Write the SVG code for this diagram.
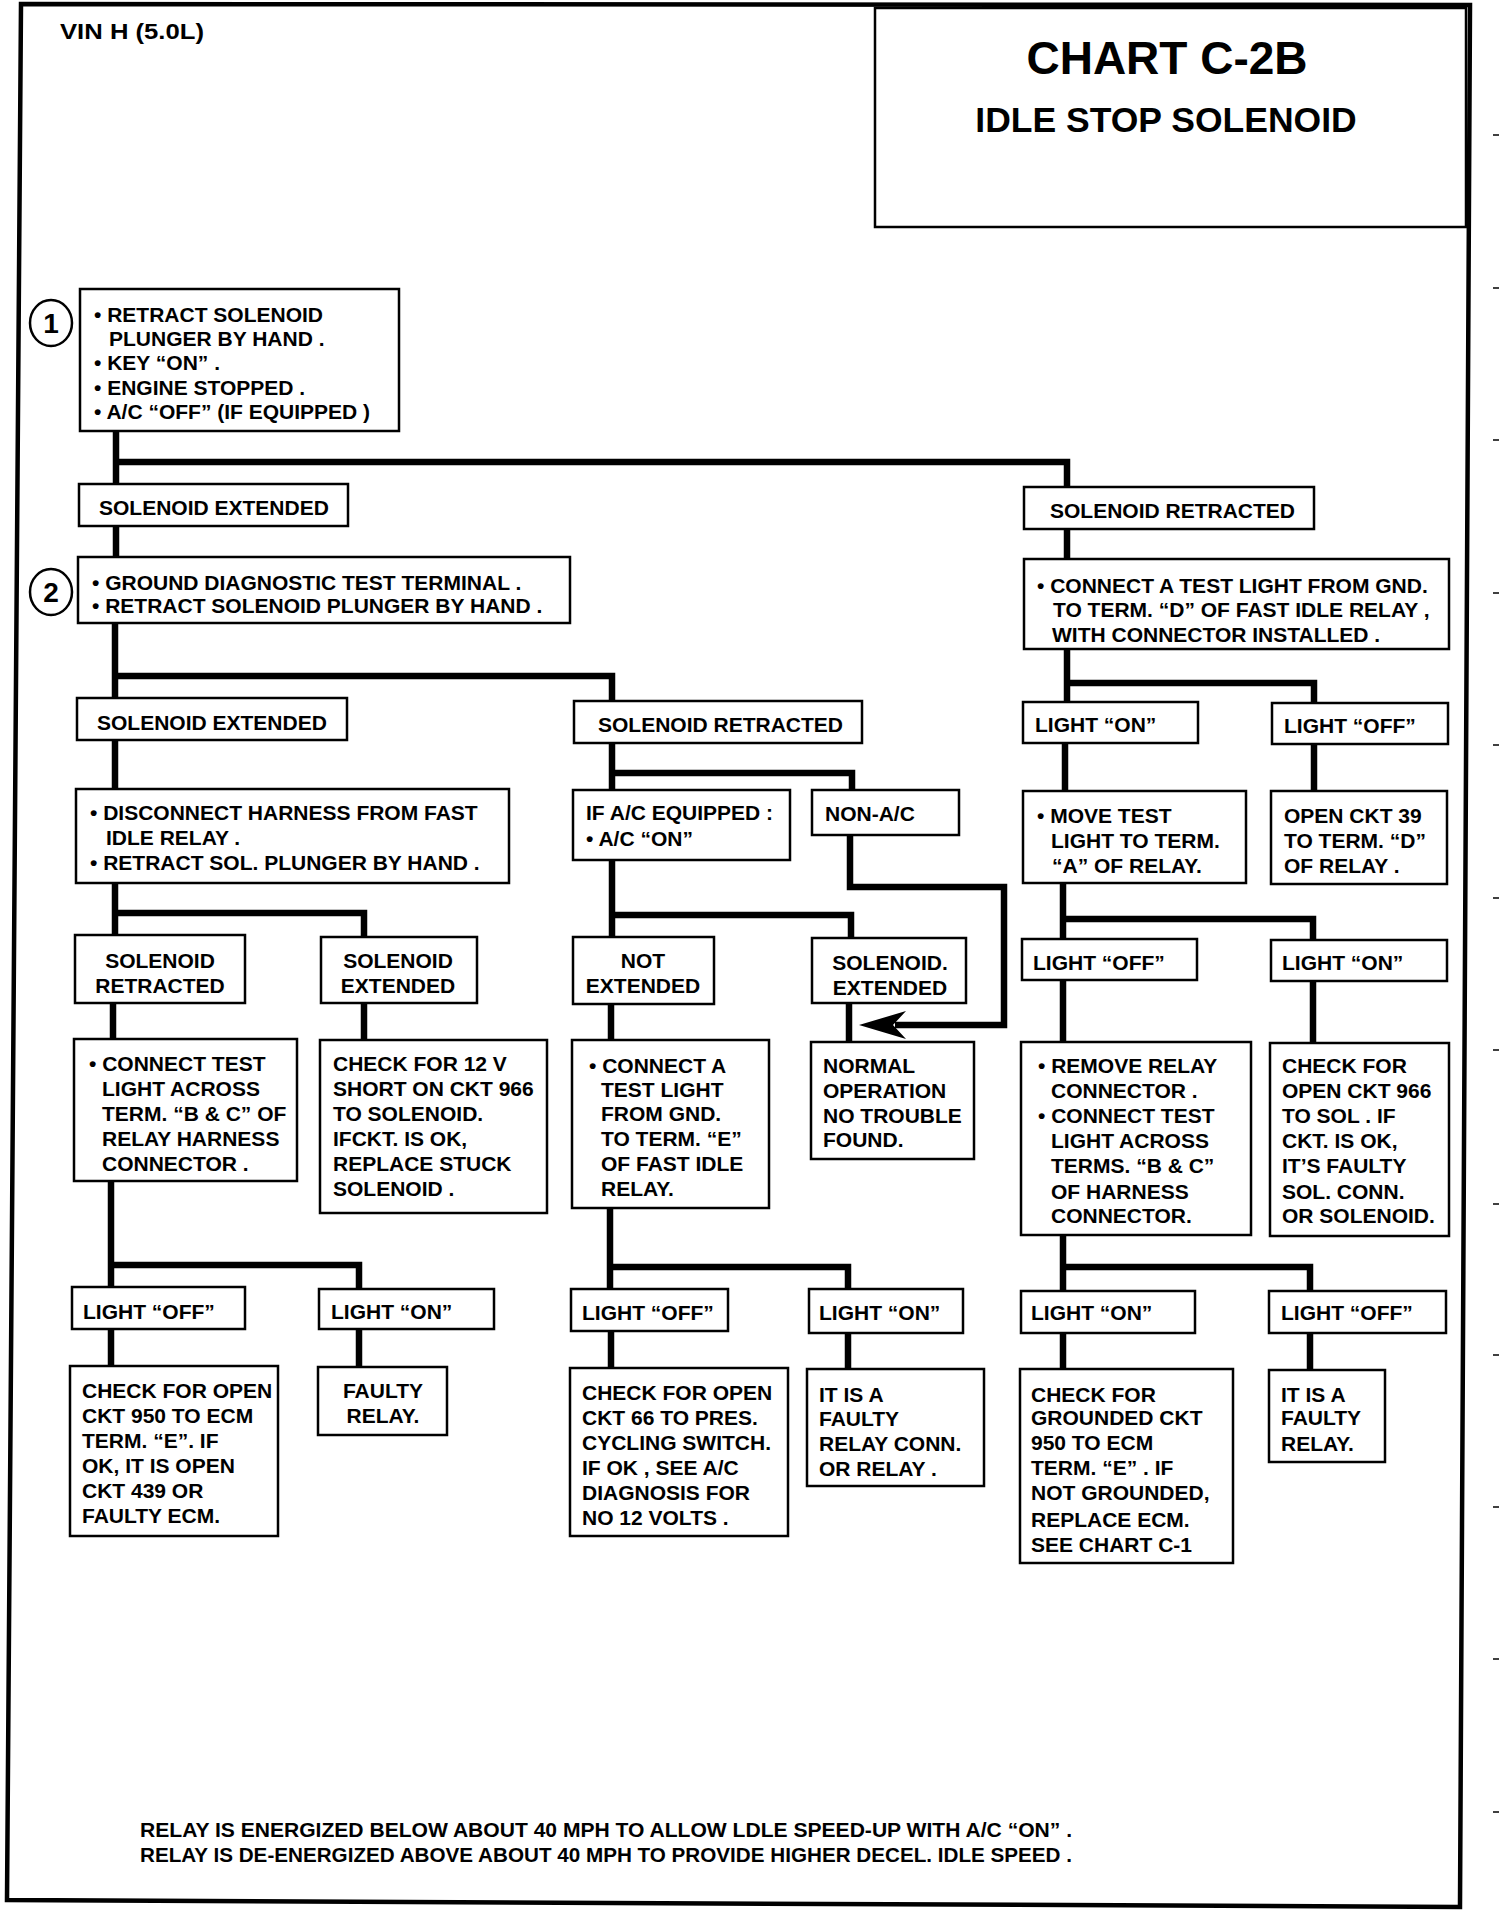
<svg xmlns="http://www.w3.org/2000/svg" width="1504" height="1912" viewBox="0 0 1504 1912">
<style>
.box{fill:#fff;stroke:#000;stroke-width:2.5}
.t{font-family:"Liberation Sans",Arial,sans-serif;font-weight:bold;font-size:21px;fill:#000}
.c{text-anchor:middle}
.conn{fill:none;stroke:#000;stroke-width:6.5;stroke-linejoin:miter;stroke-linecap:butt}
.frame{fill:none;stroke:#000;stroke-width:4.5}
.tick{stroke:#000;stroke-width:1.5}
.circ{fill:#fff;stroke:#000;stroke-width:2.5}
</style>
<rect x="0" y="0" width="1504" height="1912" fill="#fff"/>
<g id="frame">
<path class="frame" d="M21 4 L1470 5 L1460 1907 L7 1900 Z"/>
<g id="ticks">
<line class="tick" x1="1493" y1="135" x2="1499" y2="135"/>
<line class="tick" x1="1493" y1="288" x2="1499" y2="288"/>
<line class="tick" x1="1493" y1="440" x2="1499" y2="440"/>
<line class="tick" x1="1493" y1="593" x2="1499" y2="593"/>
<line class="tick" x1="1493" y1="745" x2="1499" y2="745"/>
<line class="tick" x1="1493" y1="898" x2="1499" y2="898"/>
<line class="tick" x1="1493" y1="1050" x2="1499" y2="1050"/>
<line class="tick" x1="1493" y1="1204" x2="1499" y2="1204"/>
<line class="tick" x1="1493" y1="1355" x2="1499" y2="1355"/>
<line class="tick" x1="1493" y1="1507" x2="1499" y2="1507"/>
<line class="tick" x1="1493" y1="1659" x2="1499" y2="1659"/>
<line class="tick" x1="1493" y1="1812" x2="1499" y2="1812"/>
</g>
</g>
<g id="header">
<text class="t" x="60" y="39" textLength="144" lengthAdjust="spacingAndGlyphs" style="font-size:22px">VIN H (5.0L)</text>
</g>
<g id="title">
<rect x="875" y="8" width="591" height="219" fill="#fff" stroke="#000" stroke-width="2.5"/>
<text class="t c" x="1167" y="74" style="font-size:46px">CHART C-2B</text>
<text class="t c" x="1166" y="132" style="font-size:35.5px">IDLE STOP SOLENOID</text>
</g>

<g id="connectors">
<path class="conn" d="M116 431 V484"/>
<path class="conn" d="M116 462 H1067 V487"/>
<path class="conn" d="M116 526 V557"/>
<path class="conn" d="M115 623 V698"/>
<path class="conn" d="M115 676 H612 V701"/>
<path class="conn" d="M115 740 V789"/>
<path class="conn" d="M115 883 V935"/>
<path class="conn" d="M115 913 H364 V937"/>
<path class="conn" d="M113 1003 V1039"/>
<path class="conn" d="M364 1003 V1040"/>
<path class="conn" d="M111 1181 V1287"/>
<path class="conn" d="M111 1265 H359 V1289"/>
<path class="conn" d="M111 1329 V1366"/>
<path class="conn" d="M359 1329 V1367"/>
<path class="conn" d="M612 743 V790"/>
<path class="conn" d="M612 773 H852 V790"/>
<path class="conn" d="M612 860 V937"/>
<path class="conn" d="M612 915 H851 V938"/>
<path class="conn" d="M850 835 V887 H1004 V1025 H895"/>
<path class="conn" d="M849 1003 V1042"/>
<path class="conn" d="M611 1004 V1040"/>
<path class="conn" d="M610 1208 V1289"/>
<path class="conn" d="M610 1267 H848 V1289"/>
<path class="conn" d="M611 1331 V1368"/>
<path class="conn" d="M848 1333 V1369"/>
<path class="conn" d="M1067 529 V559"/>
<path class="conn" d="M1067 649 V702"/>
<path class="conn" d="M1067 683 H1314 V703"/>
<path class="conn" d="M1065 743 V791"/>
<path class="conn" d="M1314 744 V791"/>
<path class="conn" d="M1063 883 V939"/>
<path class="conn" d="M1063 919 H1313 V940"/>
<path class="conn" d="M1063 980 V1042"/>
<path class="conn" d="M1313 981 V1043"/>
<path class="conn" d="M1063 1235 V1291"/>
<path class="conn" d="M1063 1267 H1310 V1291"/>
<path class="conn" d="M1063 1333 V1369"/>
<path class="conn" d="M1310 1333 V1370"/>
<polygon points="859,1025 906,1011 893,1025 906,1039" fill="#000"/>
</g>

<g id="step1">
<ellipse class="circ" cx="51" cy="323" rx="21" ry="23"/>
<text class="t c" x="51" y="333" style="font-size:28px">1</text>
</g>
<g id="n1">
<rect class="box" x="80" y="289" width="319" height="142"/>
<text class="t"><tspan x="94" y="322">• RETRACT SOLENOID</tspan><tspan x="109" y="346">PLUNGER BY HAND .</tspan><tspan x="94" y="370">• KEY “ON” .</tspan><tspan x="94" y="395">• ENGINE STOPPED .</tspan><tspan x="94" y="419">•  A/C “OFF” (IF EQUIPPED )</tspan></text>
</g>
<g id="n_se1">
<rect class="box" x="79" y="484" width="269" height="42"/>
<text class="t" x="99" y="515">SOLENOID EXTENDED</text>
</g>
<g id="step2">
<ellipse class="circ" cx="51" cy="592" rx="21" ry="23"/>
<text class="t c" x="51" y="602" style="font-size:28px">2</text>
</g>
<g id="n2">
<rect class="box" x="78" y="557" width="492" height="66"/>
<text class="t"><tspan x="92" y="590">• GROUND DIAGNOSTIC TEST TERMINAL .</tspan><tspan x="92" y="613">• RETRACT SOLENOID PLUNGER BY HAND .</tspan></text>
</g>
<g id="n_sr1">
<rect class="box" x="1024" y="487" width="290" height="42"/>
<text class="t" x="1050" y="518">SOLENOID RETRACTED</text>
</g>
<g id="n_gnd">
<rect class="box" x="1024" y="559" width="425" height="90"/>
<text class="t"><tspan x="1037" y="593">• CONNECT A TEST LIGHT FROM GND.</tspan><tspan x="1053" y="617">TO TERM. “D” OF FAST IDLE RELAY ,</tspan><tspan x="1052" y="642">WITH CONNECTOR INSTALLED .</tspan></text>
</g>
<g id="n_se2">
<rect class="box" x="77" y="698" width="270" height="42"/>
<text class="t" x="97" y="730">SOLENOID EXTENDED</text>
</g>
<g id="n_sr2">
<rect class="box" x="574" y="701" width="288" height="42"/>
<text class="t" x="598" y="732">SOLENOID RETRACTED</text>
</g>
<g id="n_lon1">
<rect class="box" x="1023" y="702" width="175" height="41"/>
<text class="t" x="1035" y="732">LIGHT “ON”</text>
</g>
<g id="n_loff1">
<rect class="box" x="1272" y="703" width="176" height="41"/>
<text class="t" x="1284" y="733">LIGHT “OFF”</text>
</g>
<g id="n_disc">
<rect class="box" x="76" y="789" width="433" height="94"/>
<text class="t"><tspan x="90" y="820">• DISCONNECT HARNESS FROM FAST</tspan><tspan x="106" y="845">IDLE RELAY .</tspan><tspan x="90" y="870">• RETRACT SOL. PLUNGER BY HAND .</tspan></text>
</g>
<g id="n_ifac">
<rect class="box" x="573" y="790" width="217" height="70"/>
<text class="t"><tspan x="586" y="820">IF A/C EQUIPPED :</tspan><tspan x="586" y="846">• A/C  “ON”</tspan></text>
</g>
<g id="n_nonac">
<rect class="box" x="812" y="790" width="147" height="45"/>
<text class="t" x="825" y="821">NON-A/C</text>
</g>
<g id="n_move">
<rect class="box" x="1023" y="791" width="223" height="92"/>
<text class="t"><tspan x="1037" y="823">• MOVE TEST</tspan><tspan x="1051" y="848">LIGHT TO TERM.</tspan><tspan x="1052" y="873">“A” OF RELAY.</tspan></text>
</g>
<g id="n_open39">
<rect class="box" x="1271" y="791" width="176" height="93"/>
<text class="t"><tspan x="1284" y="823">OPEN CKT 39</tspan><tspan x="1284" y="848">TO TERM. “D”</tspan><tspan x="1284" y="873">OF RELAY .</tspan></text>
</g>
<g id="n_sr3">
<rect class="box" x="75" y="935" width="170" height="68"/>
<text class="t c"><tspan x="160" y="968">SOLENOID</tspan><tspan x="160" y="993">RETRACTED</tspan></text>
</g>
<g id="n_se3">
<rect class="box" x="321" y="937" width="156" height="66"/>
<text class="t c"><tspan x="398" y="968">SOLENOID</tspan><tspan x="398" y="993">EXTENDED</tspan></text>
</g>
<g id="n_not">
<rect class="box" x="573" y="937" width="141" height="67"/>
<text class="t c"><tspan x="643" y="968">NOT</tspan><tspan x="643" y="993">EXTENDED</tspan></text>
</g>
<g id="n_se4">
<rect class="box" x="812" y="938" width="154" height="65"/>
<text class="t c"><tspan x="890" y="970">SOLENOID.</tspan><tspan x="890" y="995">EXTENDED</tspan></text>
</g>
<g id="n_loff2">
<rect class="box" x="1022" y="939" width="175" height="41"/>
<text class="t" x="1033" y="970">LIGHT “OFF”</text>
</g>
<g id="n_lon2">
<rect class="box" x="1271" y="940" width="176" height="41"/>
<text class="t" x="1282" y="970">LIGHT “ON”</text>
</g>
<g id="n_ct1">
<rect class="box" x="74" y="1039" width="223" height="142"/>
<text class="t"><tspan x="89" y="1071">• CONNECT TEST</tspan><tspan x="102" y="1096">LIGHT ACROSS</tspan><tspan x="102" y="1121">TERM. “B &amp; C” OF</tspan><tspan x="102" y="1146">RELAY HARNESS</tspan><tspan x="102" y="1171">CONNECTOR .</tspan></text>
</g>
<g id="n_12v">
<rect class="box" x="320" y="1040" width="227" height="173"/>
<text class="t"><tspan x="333" y="1071">CHECK FOR 12 V</tspan><tspan x="333" y="1096">SHORT ON CKT 966</tspan><tspan x="333" y="1121">TO SOLENOID.</tspan><tspan x="333" y="1146">IFCKT. IS OK,</tspan><tspan x="333" y="1171">REPLACE STUCK</tspan><tspan x="333" y="1196">SOLENOID .</tspan></text>
</g>
<g id="n_ctA">
<rect class="box" x="572" y="1040" width="197" height="168"/>
<text class="t"><tspan x="589" y="1073">• CONNECT A</tspan><tspan x="601" y="1097">TEST LIGHT</tspan><tspan x="601" y="1121">FROM GND.</tspan><tspan x="601" y="1146">TO TERM.  “E”</tspan><tspan x="601" y="1171">OF FAST IDLE</tspan><tspan x="601" y="1196">RELAY.</tspan></text>
</g>
<g id="n_normal">
<rect class="box" x="811" y="1042" width="163" height="117"/>
<text class="t"><tspan x="823" y="1073">NORMAL</tspan><tspan x="823" y="1098">OPERATION</tspan><tspan x="823" y="1123">NO TROUBLE</tspan><tspan x="823" y="1147">FOUND.</tspan></text>
</g>
<g id="n_remove">
<rect class="box" x="1021" y="1042" width="230" height="193"/>
<text class="t"><tspan x="1038" y="1073">• REMOVE RELAY</tspan><tspan x="1051" y="1098">CONNECTOR .</tspan><tspan x="1038" y="1123">• CONNECT TEST</tspan><tspan x="1051" y="1148">LIGHT ACROSS</tspan><tspan x="1051" y="1173">TERMS. “B &amp; C”</tspan><tspan x="1051" y="1199">OF HARNESS</tspan><tspan x="1051" y="1223">CONNECTOR.</tspan></text>
</g>
<g id="n_open966">
<rect class="box" x="1270" y="1043" width="179" height="193"/>
<text class="t"><tspan x="1282" y="1073">CHECK FOR</tspan><tspan x="1282" y="1098">OPEN CKT 966</tspan><tspan x="1282" y="1123">TO SOL . IF</tspan><tspan x="1282" y="1148">CKT. IS OK,</tspan><tspan x="1282" y="1173">IT’S FAULTY</tspan><tspan x="1282" y="1199">SOL. CONN.</tspan><tspan x="1282" y="1223">OR SOLENOID.</tspan></text>
</g>
<g id="n_loff3">
<rect class="box" x="72" y="1287" width="173" height="42"/>
<text class="t" x="83" y="1319">LIGHT “OFF”</text>
</g>
<g id="n_lon3">
<rect class="box" x="319" y="1289" width="175" height="40"/>
<text class="t" x="331" y="1319">LIGHT “ON”</text>
</g>
<g id="n_loff4">
<rect class="box" x="571" y="1289" width="157" height="42"/>
<text class="t" x="582" y="1320">LIGHT “OFF”</text>
</g>
<g id="n_lon4">
<rect class="box" x="809" y="1289" width="154" height="44"/>
<text class="t" x="819" y="1320">LIGHT “ON”</text>
</g>
<g id="n_lon5">
<rect class="box" x="1021" y="1291" width="174" height="42"/>
<text class="t" x="1031" y="1320">LIGHT “ON”</text>
</g>
<g id="n_loff5">
<rect class="box" x="1269" y="1291" width="177" height="42"/>
<text class="t" x="1281" y="1320">LIGHT “OFF”</text>
</g>
<g id="n_950">
<rect class="box" x="70" y="1366" width="208" height="170"/>
<text class="t"><tspan x="82" y="1398">CHECK FOR OPEN</tspan><tspan x="82" y="1423">CKT 950 TO ECM</tspan><tspan x="82" y="1448">TERM. “E”.  IF</tspan><tspan x="82" y="1473">OK, IT IS OPEN</tspan><tspan x="82" y="1498">CKT 439 OR</tspan><tspan x="82" y="1523">FAULTY ECM.</tspan></text>
</g>
<g id="n_faulty">
<rect class="box" x="318" y="1367" width="129" height="68"/>
<text class="t c"><tspan x="383" y="1398">FAULTY</tspan><tspan x="383" y="1423">RELAY.</tspan></text>
</g>
<g id="n_66">
<rect class="box" x="570" y="1368" width="218" height="168"/>
<text class="t"><tspan x="582" y="1400">CHECK FOR OPEN</tspan><tspan x="582" y="1425">CKT 66 TO PRES.</tspan><tspan x="582" y="1450">CYCLING SWITCH.</tspan><tspan x="582" y="1475">IF OK , SEE A/C</tspan><tspan x="582" y="1500">DIAGNOSIS FOR</tspan><tspan x="582" y="1525">NO 12 VOLTS .</tspan></text>
</g>
<g id="n_itis1">
<rect class="box" x="807" y="1369" width="177" height="117"/>
<text class="t"><tspan x="819" y="1402">IT IS A</tspan><tspan x="819" y="1426">FAULTY</tspan><tspan x="819" y="1451">RELAY CONN.</tspan><tspan x="819" y="1476">OR RELAY .</tspan></text>
</g>
<g id="n_grounded">
<rect class="box" x="1020" y="1369" width="213" height="194"/>
<text class="t"><tspan x="1031" y="1402">CHECK FOR</tspan><tspan x="1031" y="1425">GROUNDED CKT</tspan><tspan x="1031" y="1450">950 TO ECM</tspan><tspan x="1031" y="1475">TERM. “E” .  IF</tspan><tspan x="1031" y="1500">NOT GROUNDED,</tspan><tspan x="1031" y="1527">REPLACE ECM.</tspan><tspan x="1031" y="1552">SEE CHART C-1</tspan></text>
</g>
<g id="n_itis2">
<rect class="box" x="1269" y="1370" width="116" height="92"/>
<text class="t"><tspan x="1281" y="1402">IT IS A</tspan><tspan x="1281" y="1425">FAULTY</tspan><tspan x="1281" y="1451">RELAY.</tspan></text>
</g>
<g id="footer">
<text class="t" x="140" y="1837" textLength="932" lengthAdjust="spacingAndGlyphs" style="font-size:20px">RELAY IS ENERGIZED BELOW ABOUT 40 MPH TO ALLOW LDLE SPEED-UP WITH A/C “ON” .</text>
<text class="t" x="140" y="1862" textLength="932" lengthAdjust="spacingAndGlyphs" style="font-size:20px">RELAY IS DE-ENERGIZED ABOVE ABOUT 40 MPH TO PROVIDE HIGHER DECEL. IDLE SPEED .</text>
</g>
</svg>
